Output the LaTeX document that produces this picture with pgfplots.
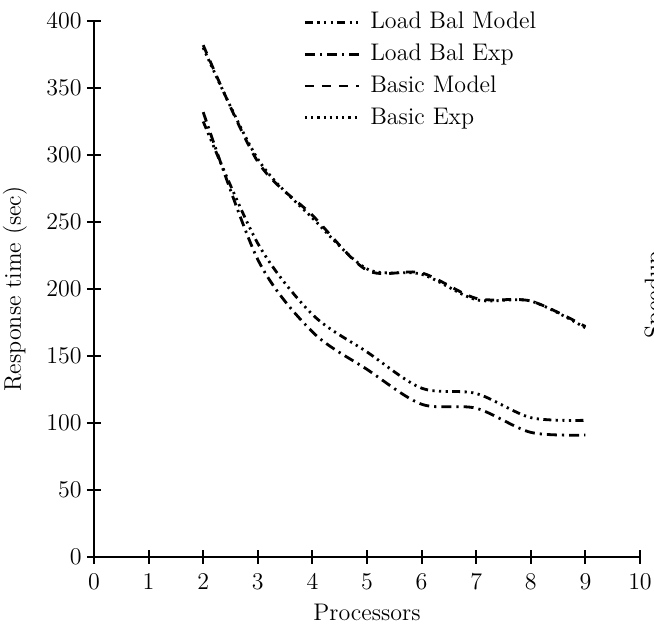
\documentclass[border=0pt,12pt]{standalone}
\usepackage{pgfplots}
\pgfplotsset{compat=1.18}
\begin{document}
\begin{tikzpicture}
\begin{axis}[
  scale only axis, width=273pt, height=268pt,
  xmin=0, xmax=10, ymin=0, ymax=400,
  axis lines=left, axis line style={-, line width=1pt},
  xtick={0,1,...,10}, ytick={0,50,...,400},
  tick align=center, major tick length=7pt,
  every tick/.style={black, line width=1pt},
  yticklabel style={xshift=1.5pt},
  xticklabel style={yshift=-1pt},
  xlabel={Processors}, ylabel={Response time (sec)},
  xlabel style={at={([yshift=-27.5pt]axis description cs:0.5,0)}, anchor=center},
  ylabel style={at={([xshift=-39.5pt]axis description cs:0,0.5)}, anchor=center},
  legend style={draw=none, fill=none, at={(0.372,1.032)}, anchor=north west,
    row sep=1.8pt, column sep=3pt, font=\normalsize},
  legend cell align=left,
  legend image code/.code={\draw[#1] (0pt,0pt) -- (27pt,0pt);},
  every axis plot/.append style={black, line width=1.4pt, smooth, tension=0.5},
]
\addplot[dash pattern=on 4pt off 2.2pt on 1.1pt off 2.2pt on 1.1pt off 2.2pt on 1.1pt off 2.2pt]
  coordinates {(2,325)(3,234)(4,181)(5,153)(6,126)(7,122)(8,104)(9,102)};
\addlegendentry{Load Bal Model}
\addplot[dash pattern=on 5pt off 2.5pt on 1.1pt off 2.5pt]
  coordinates {(2,332)(3,222)(4,168)(5,140)(6,114)(7,111)(8,93)(9,91)};
\addlegendentry{Load Bal Exp}
\addplot[dash pattern=on 4.5pt off 4pt]
  coordinates {(2,382)(3,295)(4,255)(5,214)(6,212)(7,193)(8,191)(9,172)};
\addlegendentry{Basic Model}
\addplot[dash pattern=on 1.1pt off 2pt]
  coordinates {(2,380)(3,297)(4,253)(5,215)(6,211)(7,192)(8,191)(9,171)};
\addlegendentry{Basic Exp}
\coordinate (bl) at (rel axis cs:0,0);
\coordinate (tr) at (rel axis cs:1,1);
\coordinate (sp) at (rel axis cs:1,0.489);
\end{axis}
\pgfresetboundingbox
\path[use as bounding box] ([xshift=-47pt,yshift=-36.5pt]bl) rectangle ([xshift=7pt,yshift=10.5pt]tr);
\node[rotate=90, anchor=north, inner sep=0pt] at ([xshift=2pt]sp) {Speedup};
\end{tikzpicture}
\end{document}
